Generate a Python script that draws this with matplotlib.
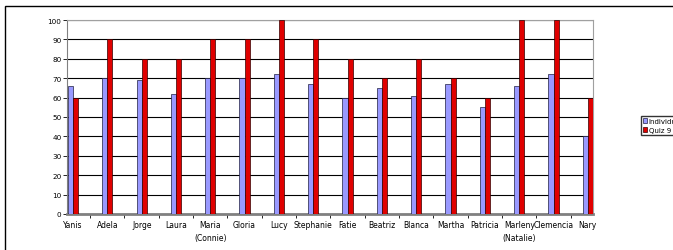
import matplotlib.pyplot as plt
import numpy as np
from matplotlib.patches import Rectangle

names = ["Yanis", "Adela", "Jorge", "Laura", "Maria\n(Connie)", "Gloria", "Lucy",
         "Stephanie", "Fatie", "Beatriz", "Blanca", "Martha", "Patricia",
         "Marleny\n(Natalie)", "Clemencia", "Nary"]
individual = [66, 70, 69, 62, 70, 70, 72, 67, 60, 65, 61, 67, 55, 66, 72, 40]
quiz9 = [60, 90, 80, 80, 90, 90, 100, 90, 80, 70, 80, 70, 60, 100, 100, 60]

plt.rcParams['font.family'] = ['Liberation Sans Narrow', 'DejaVu Sans']

fig = plt.figure(figsize=(6.73, 2.51), dpi=100)
ax = fig.add_axes([67 / 673, 1 - 215 / 251, (593 - 67) / 673, (215 - 21) / 251])

x = np.arange(len(names))
w = 0.15
ax.bar(x - w / 2, individual, w, color='#9999FF', edgecolor='#202040', linewidth=0.5, zorder=3)
ax.bar(x + w / 2, quiz9, w, color='#E00000', edgecolor='#300000', linewidth=0.5, zorder=3)

ax.set_xlim(-0.175, 15.15)
ax.set_ylim(0, 100)
ax.set_yticks(range(0, 101, 10))
ax.yaxis.grid(True, color='black', linewidth=0.8, zorder=1)
ax.set_xticks(x)
ax.set_xticklabels(names, fontsize=5.5, linespacing=1.6)
ax.set_xticks(x[:-1] + 0.5, minor=True)
ax.tick_params(axis='x', which='major', length=0, pad=4)
ax.tick_params(axis='x', which='minor', length=3, width=0.6)
ax.tick_params(axis='y', labelsize=5.2, length=3, width=0.6, pad=1)
for s in ['top', 'right']:
    ax.spines[s].set_color('#a0a0a0')
    ax.spines[s].set_linewidth(0.8)
ax.spines['left'].set_color('#808080')
ax.spines['bottom'].set_color('#808080')
ax.spines['bottom'].set_linewidth(2)

fig.legend(['Individual', 'Quiz 9'], loc='upper left', bbox_to_anchor=(641 / 673, 1 - 117 / 251),
           fontsize=5, frameon=True, fancybox=False, edgecolor='black', handlelength=0.6,
           handleheight=0.6, handletextpad=0.2, borderpad=0.3, labelspacing=0.4, borderaxespad=0)

fig.patches.append(Rectangle((5 / 673, -0.1), 1.2, 1 - 7 / 251 + 0.1, transform=fig.transFigure,
                             fill=False, edgecolor='black', linewidth=1))

fig.savefig('out.png', dpi=100)
